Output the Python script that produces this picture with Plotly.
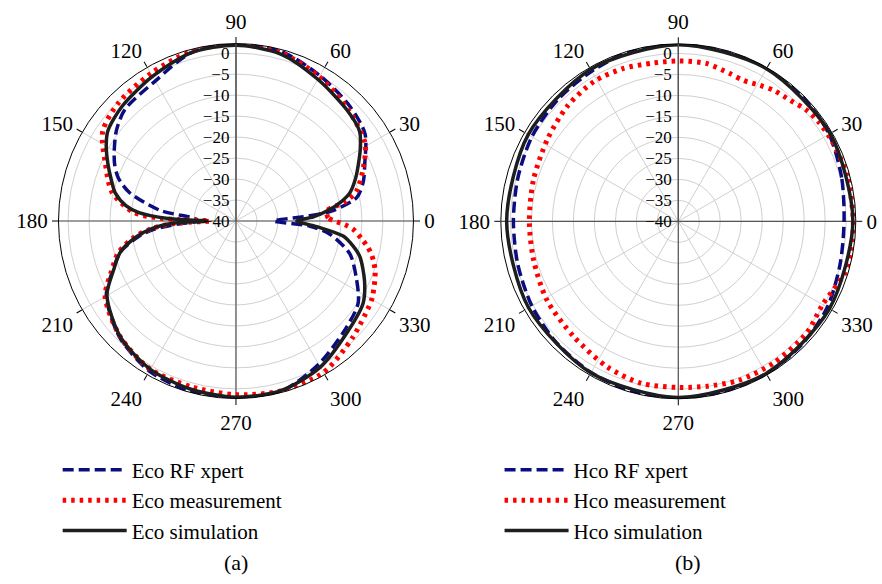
import plotly.graph_objects as go

R_MIN, R_MAX = -40, 2.3
RADIAL_TICKS = [-40, -35, -30, -25, -20, -15, -10, -5, 0]
ANGLE_TICKS = [0, 30, 60, 90, 120, 150, 180, 210, 240, 270, 300, 330]

# ---------------- Eco (a) ----------------
eco_sim_theta = [0, 3, 7, 10, 14, 20, 25, 30, 36, 45, 60, 75, 90, 105, 120, 135, 145, 150, 156, 162,
                 167, 172, 175, 178, 180, 182, 185, 189, 195, 202, 210, 225, 240, 255, 270, 285, 300,
                 315, 327, 335, 344, 348, 352, 356, 360]
eco_sim_r = [-25.5, -21.5, -17.5, -14.8, -12.0, -9.6, -7.8, -5.8, -3.6, -2.6, -1.0, 1.2, 1.9, 1.5, -0.2,
             -1.5, -2.7, -4.3, -6.6, -8.8, -10.5, -13.5, -16.8, -24.3, -33.0, -25.0, -20.0, -16.0,
             -11.5, -8.5, -4.5, -1.0, 0.8, 1.5, 2.0, 1.8, 0.2, -2.5, -3.9, -6.2, -9.3, -11.5, -14.2,
             -20.7, -25.5]

eco_rfx_theta = [0, 4, 6, 11, 17, 24, 34, 45, 60, 75, 90, 105, 120, 135, 143, 150, 155, 160, 165, 172,
                 176, 180, 183, 186, 189, 195, 202, 210, 225, 240, 255, 270, 285, 300, 315, 326, 335,
                 344, 352, 356, 360]
eco_rfx_r = [-31.0, -22.3, -17.0, -10.7, -8.3, -6.4, -2.9, -1.5, 0.0, 1.8, 2.4, 1.5, -1.5, -2.5, -4.3,
             -6.5, -8.1, -10.2, -13.7, -21.7, -29.8, -31.0, -26.0, -20.0, -16.5, -11.5, -8.3, -4.3,
             -0.8, 1.3, 2.0, 2.3, 2.0, -0.6, -3.3, -4.9, -8.4, -11.8, -17.4, -22.3, -31.0]

eco_meas_theta = [0, 2, 5, 7, 10, 14, 23, 31, 45, 60, 75, 90, 105, 120, 135, 146, 156, 167, 175, 178,
                  180, 182, 185, 189, 195, 202, 210, 225, 240, 255, 270, 285, 300, 315, 328, 331, 334,
                  337, 340, 343, 346, 349, 352, 356, 358, 360]
eco_meas_r = [-16.5, -18.0, -18.3, -17.9, -13.5, -10.4, -7.0, -4.1, -2.3, -0.3, 1.5, 2.2, 1.8, 0.6,
              -0.3, -1.7, -5.9, -9.7, -15.4, -22.0, -33.8, -26.0, -20.0, -15.5, -11.0, -8.0, -4.0,
              -1.0, 0.8, 0.9, 1.4, 1.9, 1.7, -0.7, -2.4, -2.8, -3.45, -4.05, -4.7, -5.6, -6.7, -8.1,
              -9.8, -12.0, -14.0, -16.5]

# ---------------- Hco (b) ----------------
hco_sim_theta = [0, 30, 60, 90, 120, 150, 180, 210, 240, 270, 300, 330, 360]
hco_sim_r = [1.6, 1.8, 2.0, 2.1, 1.8, 1.3, 0.9, 1.2, 1.7, 2.0, 1.9, 1.6, 1.6]

hco_rfx_theta = [0, 15, 30, 45, 60, 75, 90, 105, 120, 135, 150, 165, 180, 195, 210, 225, 240, 255,
                 270, 285, 300, 315, 330, 345, 360]
hco_rfx_r = [-0.5, 0.3, 1.5, 2.0, 2.3, 2.4, 2.4, 2.2, 1.3, 0.8, 0.3, -0.4, -0.7, -0.4, 0.3, 1.0, 1.6,
             2.0, 2.1, 2.1, 1.9, 1.6, 1.0, -0.1, -0.5]

hco_meas_theta = [0, 15, 28, 35, 41, 47, 54, 59, 65, 71, 80, 90, 99, 110, 121, 134, 148, 164, 180, 195,
                  211, 228, 244, 257, 270, 280, 291, 304, 319, 330, 343, 350, 360]
hco_meas_r = [1.7, 1.7, 1.3, 1.0, 0.45, -0.7, -1.4, -2.2, -3.0, -2.7, -1.8, -1.8, -1.8, -1.3, -1.1,
              -1.9, -3.2, -4.1, -4.5, -4.3, -3.5, -2.9, -1.4, -0.4, -0.4, -0.1, 0.55, 0.7, 0.55,
              -0.3, 1.6, 1.8, 1.7]

LABELS_A = ["Eco RF xpert", "Eco measurement", "Eco simulation"]
LABELS_B = ["Hco RF xpert", "Hco measurement", "Hco simulation"]

BLUE = "#0c0c80"
RED = "#ff0000"
BLACK = "#1e1e1e"
FONT = "Liberation Serif, Times New Roman, serif"

fig = go.Figure()


def add_cross(subplot):
    for th in ([0, 0, 180], [90, 90, 270]):
        fig.add_trace(go.Scatterpolar(r=[R_MAX, R_MIN, R_MAX], theta=th, mode="lines",
                                      line=dict(color="#555555", width=1.2), showlegend=False,
                                      hoverinfo="skip", subplot=subplot))


add_cross("polar")
add_cross("polar2")

series = [
    ("polar", "legend", LABELS_A, (eco_rfx_theta, eco_rfx_r), (eco_meas_theta, eco_meas_r),
     (eco_sim_theta, eco_sim_r)),
    ("polar2", "legend2", LABELS_B, (hco_rfx_theta, hco_rfx_r), (hco_meas_theta, hco_meas_r),
     (hco_sim_theta, hco_sim_r)),
]
for sp, lg, labels, rfx, meas, sim in series:
    fig.add_trace(go.Scatterpolar(r=rfx[1], theta=rfx[0], mode="lines", name=labels[0],
                                  line=dict(color=BLUE, width=3.5, dash="11px,5px", shape="spline",
                                            smoothing=0.8),
                                  subplot=sp, legend=lg, cliponaxis=False))
    fig.add_trace(go.Scatterpolar(r=meas[1], theta=meas[0], mode="lines", name=labels[1],
                                  line=dict(color=RED, width=5, dash="3.5px,5px", shape="spline",
                                            smoothing=0.8),
                                  subplot=sp, legend=lg, cliponaxis=False))
    fig.add_trace(go.Scatterpolar(r=sim[1], theta=sim[0], mode="lines", name=labels[2],
                                  line=dict(color=BLACK, width=3.5, shape="spline", smoothing=0.8),
                                  subplot=sp, legend=lg, cliponaxis=False))


def polar_layout(xd, yd):
    return dict(
        domain=dict(x=xd, y=yd),
        bgcolor="white",
        radialaxis=dict(range=[R_MIN, R_MAX], tickvals=RADIAL_TICKS, angle=90, tickangle=90,
                        side="counterclockwise", showline=True, linecolor="#555555", linewidth=1.2,
                        gridcolor="#d0d0d0", gridwidth=1, ticks="",
                        tickfont=dict(family=FONT, size=17, color="black")),
        angularaxis=dict(tickvals=ANGLE_TICKS, ticktext=[str(a) for a in ANGLE_TICKS],
                         direction="counterclockwise", rotation=0,
                         showline=True, linecolor="black", linewidth=1, gridcolor="#d0d0d0",
                         gridwidth=1, ticks="outside", ticklen=6, tickcolor="black",
                         tickfont=dict(family=FONT, size=21, color="black")),
    )


fig.update_layout(
    width=882, height=584,
    margin=dict(l=0, r=0, t=0, b=0, autoexpand=False),
    paper_bgcolor="white",
    font=dict(family=FONT, color="black"),
    polar=polar_layout([0.0663, 0.4688], [0.3176, 0.9255]),
    polar2=polar_layout([0.5678, 0.9703], [0.3171, 0.9250]),
    legend=dict(x=0.0654, y=0.2300, xanchor="left", yanchor="top", bgcolor="rgba(0,0,0,0)",
                font=dict(family=FONT, size=21), itemwidth=64, tracegroupgap=0),
    legend2=dict(x=0.5664, y=0.2300, xanchor="left", yanchor="top", bgcolor="rgba(0,0,0,0)",
                 font=dict(family=FONT, size=21), itemwidth=64, tracegroupgap=0),
    annotations=[
        dict(text="(a)", x=0.2676, y=0.036, xref="paper", yref="paper", showarrow=False,
             xanchor="center", yanchor="middle", font=dict(family=FONT, size=22)),
        dict(text="(b)", x=0.78, y=0.036, xref="paper", yref="paper", showarrow=False,
             xanchor="center", yanchor="middle", font=dict(family=FONT, size=22)),
    ],
)

fig.write_html("out.html", config={"displayModeBar": False},
               post_script="document.body.style.margin='0px';")
